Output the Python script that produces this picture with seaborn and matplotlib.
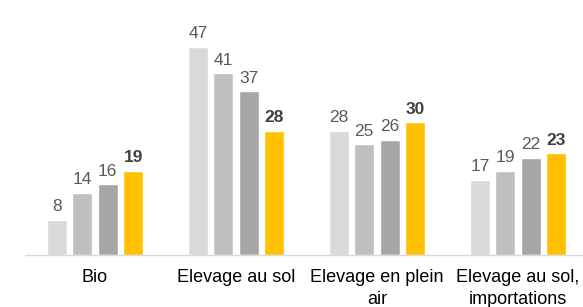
import matplotlib
matplotlib.use("Agg")
import matplotlib.pyplot as plt
import seaborn as sns
import pandas as pd

categories = ["Bio", "Elevage au sol", "Elevage en plein\nair", "Elevage au sol,\nimportations"]
series = ["S1", "S2", "S3", "S4"]
values_s1 = [8, 47, 28, 17]
values_s2 = [14, 41, 25, 19]
values_s3 = [16, 37, 26, 22]
values_s4 = [19, 28, 30, 23]
colors = ["#d9d9d9", "#bfbfbf", "#a6a6a6", "#ffc000"]

rows = []
for s, vals in zip(series, [values_s1, values_s2, values_s3, values_s4]):
    for c, v in zip(categories, vals):
        rows.append({"cat": c, "series": s, "value": v})
df = pd.DataFrame(rows)

sns.set_theme(style="white")
plt.rcParams['font.family'] = ['Liberation Sans', 'DejaVu Sans']

fig = plt.figure(figsize=(5.83, 3.07), dpi=100)
ax = fig.add_axes([24.5 / 583, 52 / 307, 564 / 583, 243.6 / 307])
sns.barplot(data=df, x="cat", y="value", hue="series", order=categories,
            hue_order=series, palette=colors, width=0.72, gap=0.2,
            ax=ax, legend=False, saturation=1)

for i, cont in enumerate(ax.containers):
    ax.bar_label(cont, padding=4, fontsize=12.5,
                 color="#404040" if i == 3 else "#595959",
                 fontweight="bold" if i == 3 else "normal")

ax.set_xlim(-0.5, 3.5)
ax.set_ylim(0, 55)
ax.set_xlabel("")
ax.set_ylabel("")
ax.set_yticks([])
for sp in ["top", "right", "left"]:
    ax.spines[sp].set_visible(False)
ax.spines["bottom"].set_color("#d9d9d9")
ax.spines["bottom"].set_linewidth(1)
ax.tick_params(axis="x", length=0, pad=10, labelsize=13, labelcolor="#000000")
for t in ax.get_xticklabels():
    t.set_linespacing(1.38)

fig.savefig("out.png", dpi=100)
